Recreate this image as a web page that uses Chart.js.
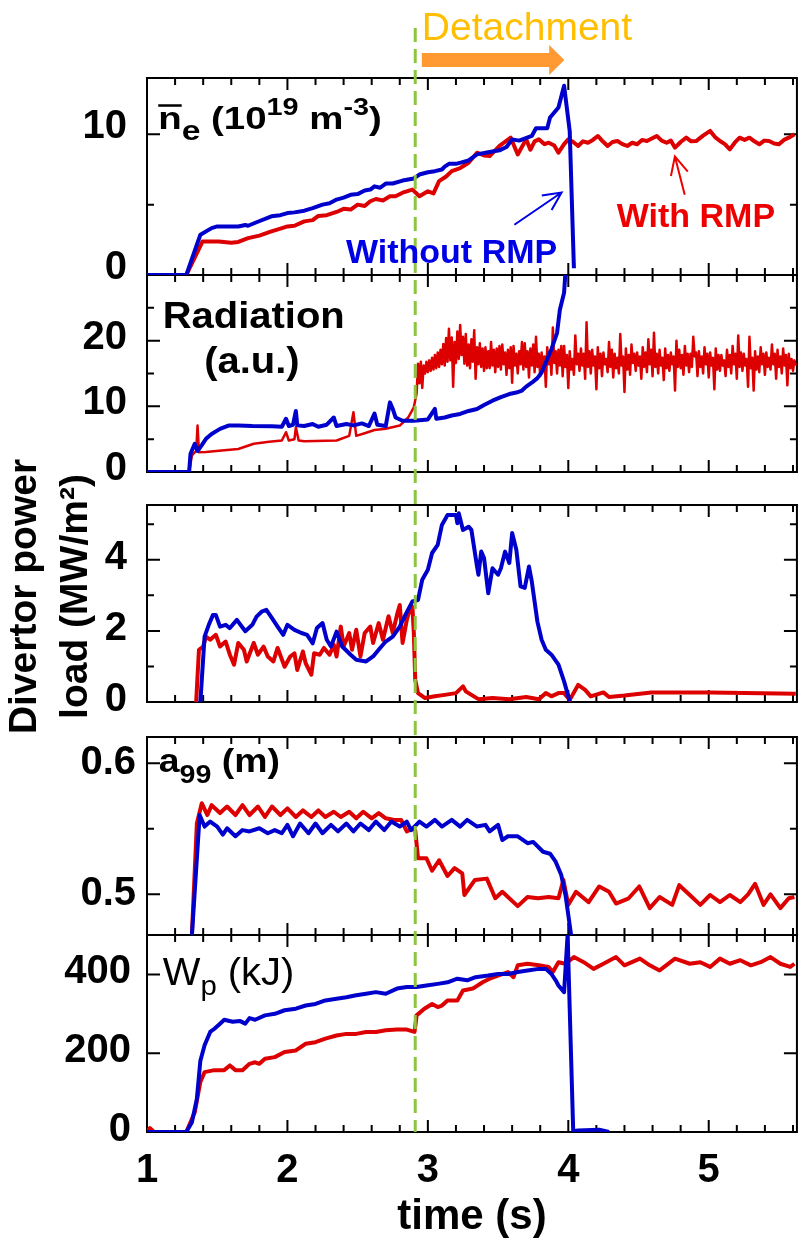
<!DOCTYPE html>
<html>
<head>
<meta charset="utf-8">
<script src="https://cdn.jsdelivr.net/npm/chart.js@4.4.1/dist/chart.umd.min.js"></script>
<style>
  html, body { margin: 0; padding: 0; background: #fff; overflow: hidden; }
  #wrap { position: relative; width: 808px; height: 1243px; }
</style>
</head>
<body>
<div id="wrap"><canvas id="chart_detachment"></canvas></div>
<script>
const FONT = '"Liberation Sans", Arial, Helvetica, sans-serif';
const BLUE = '#0000cc';
const RED = '#dd0000';

// time axis (s)
const T_MIN = 1, T_MAX = 5.628, T_STEP = 0.2;
const T_DETACH = 2.91;
const DETACH_ARROW = [2.957, 3.864, 3.972];   // shaft start, head base, tip

// tick labels per axis
const timeTickLabels = [1, 2, 3, 4, 5];
const neTickLabels = [0, 10];
const radTickLabels = [0, 10, 20];
const divTickLabels = [0, 2, 4];
const aTickLabels = [0.5, 0.6];
const wTickLabels = [0, 200, 400];

// line averaged density ne (1e19 m^-3) [t, value]
const neBlue = [[1.0,0],[1.28,0],[1.38,2.86],[1.46,3.33],[1.50,3.45],[1.65,3.45],[1.70,3.55],[1.72,3.5],[1.78,3.75],[1.886,4.17],[1.95,4.25],[2.0,4.4],[2.05,4.45],[2.12,4.57],[2.18,4.75],[2.25,5.0],[2.30,5.1],[2.35,5.36],[2.40,5.5],[2.45,5.7],[2.50,5.75],[2.55,6.0],[2.59,6.07],[2.62,6.3],[2.66,6.2],[2.70,6.5],[2.75,6.5],[2.82,6.71],[2.90,6.86],[2.94,7.14],[3.0,7.3],[3.05,7.38],[3.10,7.5],[3.12,7.7],[3.15,7.9],[3.20,7.9],[3.24,8.0],[3.29,8.14],[3.35,8.57],[3.42,8.7],[3.51,8.86],[3.56,9.1],[3.60,9.64],[3.65,9.55],[3.74,9.88],[3.77,10.43],[3.85,10.43],[3.87,11.19],[3.93,11.9],[3.97,13.45],[4.01,10.24],[4.04,0.48]];
const neRed = [[1.0,0],[1.28,0],[1.395,2.38],[1.51,2.38],[1.60,2.3],[1.65,2.35],[1.72,2.62],[1.80,2.8],[1.886,3.10],[1.95,3.3],[2.0,3.45],[2.05,3.5],[2.12,3.81],[2.18,3.9],[2.22,4.2],[2.28,4.25],[2.35,4.48],[2.40,4.7],[2.45,4.65],[2.50,5.0],[2.55,4.9],[2.59,5.24],[2.63,5.4],[2.68,5.3],[2.73,5.6],[2.77,5.6],[2.82,5.85],[2.89,6.07],[2.94,5.6],[3.0,5.95],[3.04,5.8],[3.08,6.67],[3.13,7.0],[3.17,7.38],[3.23,7.6],[3.29,7.98],[3.35,8.69],[3.40,8.5],[3.44,8.45],[3.51,9.17],[3.59,9.76],[3.64,8.57],[3.70,9.64],[3.73,8.9],[3.76,9.5],[3.79,9.64],[3.83,9.3],[3.86,9.40],[3.90,9.2],[3.93,8.69],[3.97,9.3],[4.00,9.64],[4.035,9.45],[4.07,9.17],[4.105,9.5],[4.14,9.40],[4.175,9.6],[4.21,9.88],[4.245,9.5],[4.28,9.17],[4.315,9.45],[4.35,9.52],[4.385,9.3],[4.42,9.17],[4.455,9.4],[4.49,9.29],[4.525,9.6],[4.56,9.52],[4.595,9.7],[4.63,9.88],[4.665,9.55],[4.70,9.40],[4.73,9.55],[4.76,9.05],[4.80,9.45],[4.84,9.76],[4.875,9.5],[4.91,9.52],[4.96,9.9],[5.01,10.24],[5.045,9.8],[5.08,9.52],[5.115,9.3],[5.15,8.93],[5.185,9.4],[5.22,9.76],[5.255,9.6],[5.29,9.76],[5.325,9.5],[5.36,9.29],[5.395,9.55],[5.43,9.52],[5.465,9.35],[5.50,9.29],[5.535,9.6],[5.57,9.76],[5.61,10.0]];

// radiation (a.u.)
const radBlue = [[1.0,0],[1.30,0],[1.31,2.78],[1.34,4.3],[1.36,3.2],[1.39,4.1],[1.42,5.05],[1.46,5.8],[1.52,6.57],[1.58,7.07],[1.65,7.07],[1.75,7.0],[1.89,6.97],[1.96,6.9],[1.99,8.1],[2.01,7.0],[2.04,7.2],[2.06,9.3],[2.07,7.1],[2.12,7.0],[2.18,7.3],[2.22,6.9],[2.28,7.2],[2.33,8.3],[2.35,7.0],[2.42,7.3],[2.47,7.1],[2.53,7.4],[2.58,7.0],[2.62,8.9],[2.64,7.2],[2.70,7.0],[2.73,10.6],[2.75,9.6],[2.77,8.3],[2.82,7.8],[2.90,7.8],[3.0,8.0],[3.05,9.6],[3.06,8.1],[3.12,8.3],[3.17,8.6],[3.23,8.84],[3.29,9.3],[3.35,9.6],[3.40,10.2],[3.46,10.86],[3.52,11.4],[3.58,11.87],[3.63,12.1],[3.67,12.4],[3.70,13.0],[3.74,13.6],[3.78,14.3],[3.81,15.15],[3.85,17.2],[3.88,18.7],[3.92,21.2],[3.94,24.7],[3.97,27.3],[3.98,30.5]];
const radRed = [[1.0,0],[1.30,0],[1.32,2.55],[1.35,3.2],[1.36,7.07],[1.37,3.0],[1.42,3.03],[1.55,3.3],[1.65,3.5],[1.76,4.3],[1.87,4.6],[1.96,4.8],[1.99,6.06],[2.01,4.8],[2.05,5.0],[2.06,6.8],[2.08,4.8],[2.12,4.7],[2.35,4.8],[2.44,5.5],[2.47,9.1],[2.49,5.5],[2.55,5.9],[2.62,6.4],[2.70,6.6],[2.80,7.07],[2.86,8.3],[2.90,9.85]];
// dense part of the red radiation trace, sampled every RAD_NOISE_DT s from RAD_NOISE_T0
const RAD_NOISE_T0 = 2.92, RAD_NOISE_DT = 0.01;
const radRedNoise = [
  12.0,16.5,13.5,16.8,12.8,16.2,15.0,16.8,15.2,
  17.0,15.4,17.4,15.6,17.8,15.8,18.2,16.0,18.6,16.4,
  19.5,16.2,20.4,16.8,21.8,17.0,20.5,13.0,19.8,16.6,
  21.4,17.2,22.4,17.8,20.6,16.5,21.0,16.2,19.4,15.8,
  20.2,16.8,21.6,14.2,19.0,16.4,19.6,16.0,18.8,15.4,
  19.0,15.8,18.4,15.8,19.8,16.2,18.6,15.2,18.8,16.0,
  19.2,15.6,19.4,16.4,18.2,14.8,18.6,15.8,19.0,13.6,
  19.2,16.2,18.0,15.0,18.4,16.4,19.8,15.6,19.6,16.0,
  18.4,14.4,18.8,16.2,19.4,15.2,20.6,16.0,18.0,14.6,
  18.2,15.8,17.6,13.0,19.0,16.4,18.2,14.8,22.0,16.6,
  18.4,15.0,18.6,16.2,19.2,14.6,19.2,16.0,17.8,12.8,
  18.4,15.6,17.2,14.8,20.8,16.4,18.0,15.4,18.8,16.2,
  18.0,14.2,22.8,16.0,18.4,15.0,18.6,16.2,17.6,12.6,
  19.0,15.8,18.0,14.6,18.2,16.4,17.2,15.2,19.8,16.0,
  18.6,14.4,18.0,15.8,17.4,15.0,21.0,16.2,17.6,12.2,
  18.8,15.6,17.8,14.8,19.4,16.6,18.0,15.4,18.2,16.2,
  17.6,14.2,19.0,16.0,18.2,15.2,20.2,16.4,18.6,14.6,
  21.2,16.0,18.0,15.0,18.6,16.2,17.4,14.0,18.8,15.8,
  17.8,15.4,18.2,16.4,17.6,12.4,20.0,16.0,18.6,15.8,
  17.8,14.8,19.2,16.2,18.0,15.2,18.0,16.0,20.6,17.6,
  18.2,14.6,18.4,16.0,17.6,15.0,19.0,16.4,18.0,14.4,
  18.2,16.2,17.4,12.6,18.8,15.6,17.8,15.4,17.8,16.2,
  17.0,14.6,18.6,16.0,17.8,15.0,19.2,16.4,18.0,14.2,
  20.8,16.0,18.2,15.4,18.0,16.2,17.2,13.0,20.6,15.8,
  17.4,12.4,18.4,15.6,17.6,15.2,19.0,16.4,18.0,14.8,
  18.2,16.0,17.4,15.6,19.4,16.4,18.0,14.2,18.6,16.0,
  17.6,15.0,18.8,16.2,17.8,13.2,18.0,15.8,17.2,15.4,
  17.0,16.2];

// divertor power load (MW/m2)
const divBlue = [[1.38,0],[1.41,1.84],[1.44,2.17],[1.47,2.45],[1.49,2.45],[1.52,2.12],[1.56,2.17],[1.59,2.08],[1.64,2.31],[1.70,1.99],[1.75,2.17],[1.78,2.4],[1.82,2.55],[1.85,2.59],[1.89,2.36],[1.93,2.12],[1.97,1.89],[2.00,2.17],[2.05,2.03],[2.10,1.94],[2.14,1.89],[2.18,1.65],[2.21,2.08],[2.25,2.22],[2.28,1.75],[2.31,1.56],[2.35,1.98],[2.39,1.56],[2.45,1.33],[2.49,1.19],[2.56,1.14],[2.61,1.28],[2.66,1.52],[2.70,1.70],[2.75,1.84],[2.80,2.12],[2.84,2.45],[2.89,2.83],[2.93,2.87],[2.96,3.44],[3.00,3.72],[3.03,4.19],[3.07,4.42],[3.10,4.98],[3.14,5.26],[3.20,5.26],[3.21,5.03],[3.22,5.31],[3.25,4.84],[3.29,4.93],[3.31,4.84],[3.35,3.81],[3.36,3.58],[3.38,4.23],[3.40,4.05],[3.43,3.06],[3.46,3.76],[3.50,3.58],[3.52,3.76],[3.55,4.23],[3.58,3.91],[3.60,4.75],[3.63,4.28],[3.66,3.25],[3.69,3.21],[3.72,3.81],[3.74,3.39],[3.78,2.26],[3.81,1.75],[3.84,1.47],[3.88,1.33],[3.93,1.05],[3.97,0.58],[4.01,0.02]];
const divRed = [[1.35,0],[1.37,1.47],[1.40,1.56],[1.42,1.84],[1.45,1.75],[1.49,1.89],[1.52,1.56],[1.56,1.70],[1.59,1.33],[1.62,1.05],[1.65,1.66],[1.69,1.47],[1.71,1.14],[1.76,1.66],[1.79,1.33],[1.83,1.56],[1.86,1.28],[1.90,1.14],[1.93,1.52],[1.98,0.99],[2.02,1.28],[2.05,1.37],[2.07,0.90],[2.11,1.42],[2.13,1.09],[2.17,0.77],[2.19,1.37],[2.23,1.33],[2.26,1.52],[2.30,1.33],[2.33,1.61],[2.35,1.28],[2.38,2.12],[2.40,1.56],[2.44,1.94],[2.46,1.47],[2.49,2.03],[2.52,1.28],[2.55,1.94],[2.59,2.12],[2.61,1.66],[2.65,2.22],[2.68,1.75],[2.72,2.41],[2.75,1.94],[2.78,2.45],[2.80,2.73],[2.82,1.66],[2.85,2.31],[2.87,2.59],[2.89,2.68],[2.90,1.94],[2.91,0.62],[2.93,0.25],[2.98,0.11],[3.05,0.16],[3.12,0.2],[3.20,0.25],[3.25,0.44],[3.27,0.30],[3.31,0.2],[3.36,0.08],[3.46,0.11],[3.58,0.08],[3.70,0.14],[3.79,0.08],[3.84,0.25],[3.88,0.16],[3.93,0.25],[3.97,0.25],[4.01,0.06],[4.07,0.48],[4.12,0.34],[4.16,0.16],[4.25,0.27],[4.29,0.14],[4.40,0.18],[4.59,0.27],[5.01,0.27],[5.62,0.23]];

// a99 (m)
const aBlue = [[1.32,0.469],[1.375,0.5605],[1.41,0.5517],[1.45,0.5555],[1.50,0.5517],[1.54,0.5456],[1.57,0.5504],[1.63,0.5443],[1.68,0.549],[1.73,0.548],[1.80,0.5504],[1.86,0.5466],[1.91,0.549],[1.96,0.5466],[2.00,0.553],[2.04,0.5443],[2.09,0.554],[2.15,0.5466],[2.20,0.554],[2.25,0.5466],[2.31,0.553],[2.36,0.548],[2.42,0.554],[2.47,0.548],[2.52,0.554],[2.58,0.549],[2.63,0.5555],[2.69,0.549],[2.74,0.5555],[2.80,0.5517],[2.85,0.5555],[2.88,0.549],[2.94,0.5555],[2.99,0.5517],[3.05,0.5568],[3.10,0.5517],[3.17,0.5568],[3.23,0.5517],[3.28,0.5568],[3.35,0.5517],[3.41,0.553],[3.44,0.548],[3.50,0.553],[3.53,0.5414],[3.57,0.5443],[3.64,0.5443],[3.71,0.539],[3.75,0.540],[3.82,0.5325],[3.87,0.531],[3.91,0.5249],[3.95,0.5147],[3.98,0.4995],[4.02,0.469]];
const aRed = [[1.32,0.47],[1.355,0.554],[1.39,0.5695],[1.43,0.5605],[1.46,0.568],[1.52,0.562],[1.57,0.567],[1.63,0.5605],[1.68,0.568],[1.73,0.5605],[1.79,0.567],[1.84,0.559],[1.89,0.567],[1.95,0.5605],[2.00,0.5656],[2.06,0.559],[2.11,0.564],[2.17,0.559],[2.22,0.564],[2.27,0.559],[2.33,0.563],[2.38,0.559],[2.44,0.563],[2.49,0.558],[2.54,0.563],[2.60,0.558],[2.65,0.562],[2.70,0.558],[2.76,0.5567],[2.81,0.5567],[2.85,0.548],[2.885,0.550],[2.91,0.549],[2.93,0.5275],[2.99,0.5275],[3.03,0.518],[3.08,0.526],[3.14,0.514],[3.19,0.52],[3.245,0.516],[3.26,0.4995],[3.335,0.511],[3.42,0.512],[3.48,0.497],[3.53,0.502],[3.64,0.491],[3.71,0.498],[3.785,0.497],[3.86,0.498],[3.93,0.497],[3.965,0.511],[4.00,0.492],[4.055,0.502],[4.145,0.494],[4.22,0.506],[4.29,0.502],[4.34,0.493],[4.43,0.497],[4.505,0.506],[4.58,0.4895],[4.65,0.498],[4.74,0.492],[4.79,0.507],[4.865,0.4995],[4.94,0.492],[5.01,0.4995],[5.08,0.494],[5.15,0.4995],[5.225,0.494],[5.28,0.5],[5.33,0.508],[5.39,0.492],[5.44,0.5],[5.51,0.4895],[5.57,0.497],[5.61,0.498]];

// stored energy Wp (kJ)
const wBlue = [[1.0,0],[1.28,0],[1.32,25],[1.355,84],[1.38,181],[1.41,220],[1.45,254],[1.48,262],[1.52,275],[1.55,285],[1.61,280],[1.66,282],[1.70,275],[1.73,289],[1.77,285],[1.84,296],[1.91,300],[1.98,309],[2.06,313],[2.13,321],[2.20,325],[2.27,334],[2.35,338],[2.42,342],[2.49,347],[2.56,351],[2.63,355],[2.70,351],[2.78,364],[2.85,368],[2.92,368],[2.99,372],[3.07,376],[3.14,380],[3.21,389],[3.28,385],[3.34,393],[3.43,397],[3.50,401],[3.57,401],[3.64,406],[3.71,410],[3.79,414],[3.84,414],[3.88,401],[3.91,385],[3.93,372],[3.97,355],[3.995,500],[4.035,2],[4.07,4],[4.22,6],[4.29,0]];
const wRed = [[1.0,0],[1.02,10],[1.05,0],[1.28,0],[1.34,50],[1.38,127],[1.41,152],[1.48,157],[1.55,157],[1.59,169],[1.63,157],[1.68,157],[1.73,173],[1.77,177],[1.80,173],[1.84,186],[1.91,190],[1.98,203],[2.06,207],[2.13,224],[2.20,228],[2.27,237],[2.35,245],[2.42,249],[2.49,249],[2.56,254],[2.63,254],[2.70,258],[2.78,260],[2.85,260],[2.905,254],[2.92,296],[2.975,313],[3.03,325],[3.07,317],[3.10,321],[3.14,334],[3.21,334],[3.25,359],[3.32,364],[3.39,380],[3.44,389],[3.50,397],[3.57,406],[3.61,393],[3.64,423],[3.71,427],[3.79,423],[3.86,419],[3.89,406],[3.93,431],[3.98,427],[4.04,444],[4.11,431],[4.18,414],[4.25,427],[4.34,444],[4.40,423],[4.51,440],[4.58,423],[4.65,410],[4.76,440],[4.865,427],[4.94,431],[5.01,419],[5.08,440],[5.15,427],[5.225,436],[5.30,423],[5.37,431],[5.44,444],[5.51,427],[5.58,419],[5.61,427]];

// stacked panels, top to bottom (gaps are empty spacer axes)
const panels = [
  {id: 'yNe',  min: 0, max: 14, step: 5, labels: neTickLabels, weight: 197, pad: 20, off: -7, fix: 0},
  {id: 'yRad', min: 0, max: 30, step: 5, labels: radTickLabels, weight: 197, pad: 20, off: -3, fix: 0},
  {id: 'gap1', gap: true, weight: 33},
  {id: 'yDiv', min: 0, max: 5.54, step: 1, labels: divTickLabels, weight: 197, pad: 20, off: -2, fix: 0},
  {id: 'gap2', gap: true, weight: 35},
  {id: 'yA',   min: 0.469, max: 0.62, step: 0.05, labels: aTickLabels, weight: 198, pad: 11, off: 0, fix: 1},
  {id: 'yW',   min: 0, max: 500, step: 200, labels: wTickLabels, weight: 197, pad: 16, off: -2, fix: 0}
];

const inList = (v, list) => list.some(l => Math.abs(l - v) < 1e-6);
const pts = arr => arr.map(p => ({x: p[0], y: p[1]}));

const radRedAll = pts(radRed).concat(radRedNoise.map((v, i) => ({x: RAD_NOISE_T0 + i * RAD_NOISE_DT, y: v})));

// in-panel labels, anchored in data units of their panel
const panelTexts = [
  {axis: 'yNe', x: 1.08, y: 10.36, color: '#000', sx: 1.2, runs: [
    {t: 'n', s: 32, b: 1, bar: 1}, {t: 'e', s: 28, b: 1, dy: 11}, {t: ' (10', s: 32, b: 1},
    {t: '19', s: 24, b: 1, dy: -14}, {t: ' m', s: 32, b: 1}, {t: '-3', s: 24, b: 1, dy: -14}, {t: ')', s: 32, b: 1}]},
  {axis: 'yNe', x: 2.417, y: 0.86, color: '#0000e6', sx: 1, runs: [{t: 'Without RMP', s: 34, b: 1}]},
  {axis: 'yNe', x: 4.345, y: 3.43, color: '#ee0000', sx: 1, runs: [{t: 'With RMP', s: 34, b: 1}]},
  {axis: 'yRad', x: 1.112, y: 21.97, color: '#000', sx: 1.08, runs: [{t: 'Radiation', s: 37, b: 1}]},
  {axis: 'yRad', x: 1.407, y: 15.15, color: '#000', sx: 1.08, runs: [{t: '(a.u.)', s: 37, b: 1}]},
  {axis: 'yA', x: 1.084, y: 0.5934, color: '#000', sx: 1.1, runs: [
    {t: 'a', s: 34, b: 1}, {t: '99', s: 26, b: 1, dy: 11}, {t: ' (m)', s: 34, b: 1}]},
  {axis: 'yW', x: 1.112, y: 372, color: '#000', sx: 1.05, runs: [
    {t: 'W', s: 38}, {t: 'p', s: 28, dy: 10}, {t: ' (kJ)', s: 38}]}
];

// pointer arrows [axis, tailX, tailY, tipX, tipY, colour]
const arrows = [
  ['yNe', 3.616, 3.57, 3.952, 5.86, '#0000e6'],
  ['yNe', 4.829, 5.71, 4.759, 8.43, '#ee0000']
];

const line = (data, axis, color, width) => ({
  data: data, yAxisID: axis, borderColor: color, borderWidth: width,
  pointRadius: 0, tension: 0, fill: false, borderJoinStyle: 'round'
});

const scales = {
  x: {
    type: 'linear', position: 'bottom', min: T_MIN, max: T_MAX,
    afterFit: s => { s.height = 111; },
    grid: {display: false, drawTicks: false},
    border: {display: false},
    ticks: {
      stepSize: T_STEP, includeBounds: false, autoSkip: false, maxRotation: 0, padding: 15,
      color: '#000', font: {size: 40, weight: 'bold'},
      callback: v => inList(v, timeTickLabels) ? String(Math.round(v)) : ''
    },
    title: {display: true, text: 'time (s)', color: '#000', font: {size: 42, weight: 'bold'}, padding: {top: 0, bottom: 0}}
  }
};
panels.forEach((p, i) => {
  scales[p.id] = {
    type: 'linear', position: 'left', stack: 'panels', stackWeight: p.weight, weight: panels.length - i,
    min: p.gap ? 0 : p.min, max: p.gap ? 1 : p.max,
    afterFit: s => { s.width = 147; },
    grid: {display: false, drawTicks: false},
    border: {display: false},
    ticks: p.gap ? {display: false} : {
      stepSize: p.step, includeBounds: false, autoSkip: false, padding: p.pad, labelOffset: p.off,
      color: '#000', font: {size: 40, weight: 'bold'},
      callback: v => inList(v, p.labels) ? v.toFixed(p.fix) : ''
    }
  };
});

function drawRuns(ctx, x0, y0, item) {
  ctx.save();
  ctx.translate(x0, y0);
  ctx.scale(item.sx, 1);
  ctx.fillStyle = item.color;
  ctx.textBaseline = 'alphabetic';
  ctx.textAlign = 'left';
  let cx = 0;
  item.runs.forEach(r => {
    ctx.font = (r.b ? 'bold ' : '') + r.s + 'px ' + FONT;
    ctx.fillText(r.t, cx, r.dy || 0);
    const w = ctx.measureText(r.t).width;
    if (r.bar) ctx.fillRect(cx, -r.s * 0.78, w, 2.5);
    cx += w;
  });
  ctx.restore();
}

const panelDecor = {
  id: 'panelDecor',
  beforeDatasetsDraw(chart) {
    const ctx = chart.ctx, xs = chart.scales.x;
    ctx.save();
    ctx.strokeStyle = '#000';
    ctx.lineWidth = 2;
    panels.filter(p => !p.gap).forEach(p => {
      const ys = chart.scales[p.id];
      const L = xs.left, R = xs.right, T = ys.top, B = ys.bottom;
      ctx.strokeRect(L, T, R - L, B - T);
      ctx.beginPath();
      ys.ticks.forEach(t => {
        const y = ys.getPixelForValue(t.value);
        const len = inList(t.value, p.labels) ? 13 : 7;
        ctx.moveTo(L, y); ctx.lineTo(L + len, y);
        ctx.moveTo(R, y); ctx.lineTo(R - len, y);
      });
      xs.ticks.forEach(t => {
        const x = xs.getPixelForValue(t.value);
        const len = inList(t.value, timeTickLabels) ? 12 : 7;
        ctx.moveTo(x, T); ctx.lineTo(x, T + len);
        ctx.moveTo(x, B); ctx.lineTo(x, B - len);
      });
      ctx.stroke();
    });
    ctx.restore();
  },
  beforeDatasetDraw(chart, args) {
    const ctx = chart.ctx, ys = args.meta.yScale, xs = args.meta.xScale;
    ctx.save();
    ctx.beginPath();
    ctx.rect(xs.left, ys.top - 2, xs.width, ys.height + 4);
    ctx.clip();
  },
  afterDatasetDraw(chart) {
    chart.ctx.restore();
  },
  afterDatasetsDraw(chart) {
    const ctx = chart.ctx, xs = chart.scales.x, area = chart.chartArea;

    // detachment onset
    const xd = xs.getPixelForValue(T_DETACH);
    ctx.save();
    ctx.strokeStyle = '#8cc63f';
    ctx.lineWidth = 3;
    ctx.setLineDash([14, 7]);
    ctx.beginPath();
    ctx.moveTo(xd, area.top - 50);
    ctx.lineTo(xd, area.bottom);
    ctx.stroke();
    ctx.restore();

    // "Detachment" banner with arrow
    ctx.save();
    ctx.fillStyle = '#ffbf00';
    ctx.font = '39px ' + FONT;
    ctx.textBaseline = 'alphabetic';
    ctx.fillText('Detachment', xs.getPixelForValue(DETACH_ARROW[0]), area.top - 38);
    const a0 = xs.getPixelForValue(DETACH_ARROW[0]);
    const a1 = xs.getPixelForValue(DETACH_ARROW[1]);
    const a2 = xs.getPixelForValue(DETACH_ARROW[2]);
    const ym = area.top - 18;
    ctx.fillStyle = '#ff9a33';
    ctx.beginPath();
    ctx.moveTo(a0, ym - 7); ctx.lineTo(a1, ym - 7); ctx.lineTo(a1, ym - 15);
    ctx.lineTo(a2, ym); ctx.lineTo(a1, ym + 15); ctx.lineTo(a1, ym + 7); ctx.lineTo(a0, ym + 7);
    ctx.closePath();
    ctx.fill();
    ctx.restore();

    // panel labels
    panelTexts.forEach(item => {
      const ys = chart.scales[item.axis];
      drawRuns(ctx, xs.getPixelForValue(item.x), ys.getPixelForValue(item.y), item);
    });

    // pointer arrows
    arrows.forEach(a => {
      const ys = chart.scales[a[0]];
      const x0 = xs.getPixelForValue(a[1]), y0 = ys.getPixelForValue(a[2]);
      const x1 = xs.getPixelForValue(a[3]), y1 = ys.getPixelForValue(a[4]);
      const ang = Math.atan2(y1 - y0, x1 - x0);
      ctx.save();
      ctx.strokeStyle = a[5];
      ctx.lineWidth = 2;
      ctx.beginPath();
      ctx.moveTo(x0, y0); ctx.lineTo(x1, y1);
      ctx.moveTo(x1 - 20 * Math.cos(ang - 0.45), y1 - 20 * Math.sin(ang - 0.45));
      ctx.lineTo(x1, y1);
      ctx.lineTo(x1 - 20 * Math.cos(ang + 0.45), y1 - 20 * Math.sin(ang + 0.45));
      ctx.stroke();
      ctx.restore();
    });

    // y title of the divertor panel (two lines, rotated)
    const yd = chart.scales.yDiv;
    ctx.save();
    ctx.translate(25, (yd.top + yd.bottom) / 2 - 7);
    ctx.rotate(-Math.PI / 2);
    ctx.fillStyle = '#000';
    ctx.font = 'bold 39px ' + FONT;
    ctx.textAlign = 'center';
    ctx.textBaseline = 'middle';
    ctx.fillText('Divertor power', 0, 0);
    ctx.fillText('load (MW/m\u00b2)', 0, 51);
    ctx.restore();
  }
};

Chart.defaults.font.family = FONT;

const chart_detachment = new Chart(document.getElementById('chart_detachment'), {
  type: 'line',
  data: {
    datasets: [
      line(pts(neBlue), 'yNe', BLUE, 4),
      line(pts(radBlue), 'yRad', BLUE, 4),
      line(pts(divBlue), 'yDiv', BLUE, 4),
      line(pts(aBlue), 'yA', BLUE, 4),
      line(pts(wBlue), 'yW', BLUE, 4),
      line(pts(neRed), 'yNe', RED, 4),
      line(radRedAll, 'yRad', RED, 2.5),
      line(pts(divRed), 'yDiv', RED, 4),
      line(pts(aRed), 'yA', RED, 4),
      line(pts(wRed), 'yW', RED, 4)
    ]
  },
  options: {
    animation: false,
    responsive: true,
    maintainAspectRatio: false,
    events: [],
    layout: {padding: {top: 78, right: 1, bottom: 0, left: 0}},
    plugins: {legend: {display: false}, tooltip: {enabled: false}},
    scales: scales
  },
  plugins: [panelDecor]
});
</script>
</body>
</html>
